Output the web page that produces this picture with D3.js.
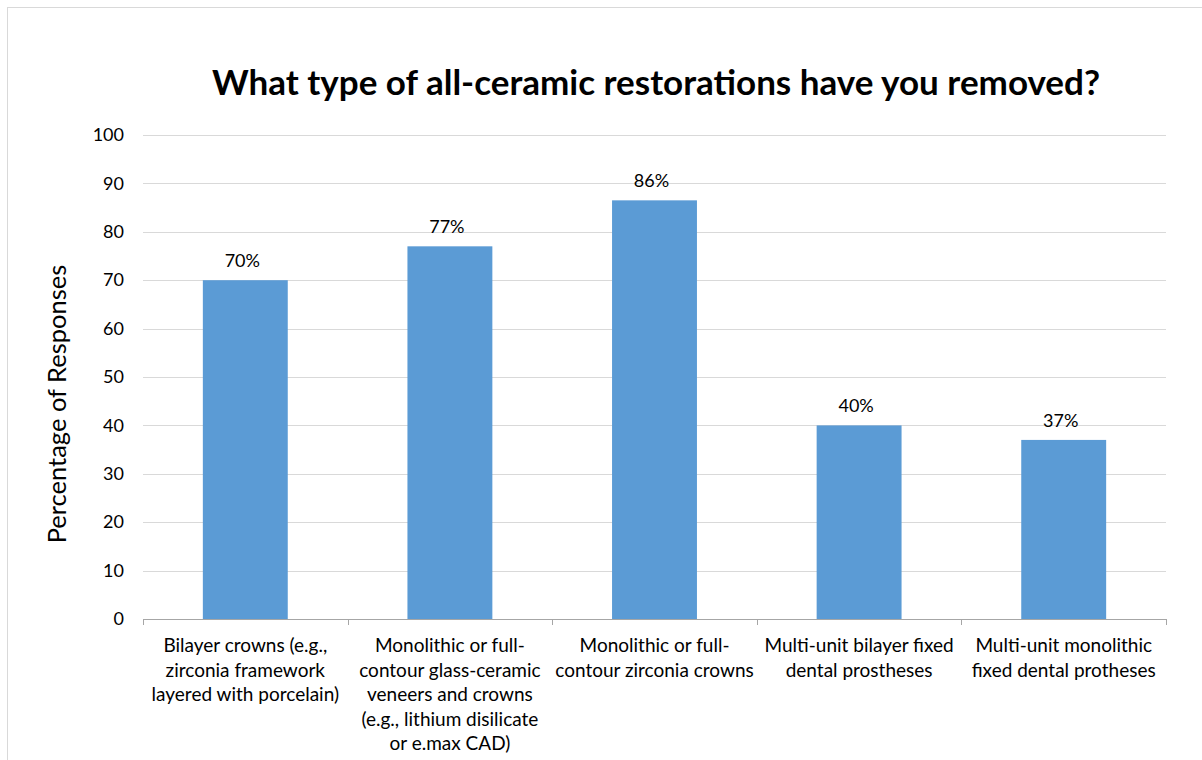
<!DOCTYPE html>
<html>
<head>
<meta charset="utf-8">
<script src="https://cdn.jsdelivr.net/npm/d3@7"></script>
<style>
  body { margin: 0; background: #fff; }
  text { font-family: Lato, "Open Sans", sans-serif; fill: #000; }
</style>
</head>
<body>
<div id="chart"></div>
<script>
// Chart data
const categories = [
  ["Bilayer crowns (e.g.,", "zirconia framework", "layered with porcelain)"],
  ["Monolithic or full-", "contour glass-ceramic", "veneers and crowns", "(e.g., lithium disilicate", "or e.max CAD)"],
  ["Monolithic or full-", "contour zirconia crowns"],
  ["Multi-unit bilayer fixed", "dental prostheses"],
  ["Multi-unit monolithic", "fixed dental protheses"]
];
const values = [70, 77, 86.5, 40, 37];
const valueLabels = ["70%", "77%", "86%", "40%", "37%"];
const yTicks = [0, 10, 20, 30, 40, 50, 60, 70, 80, 90, 100];

// Dimensions
const W = 1202, H = 760;
const margin = { top: 135, right: 36, bottom: 141, left: 143 };
const width = W - margin.left - margin.right;
const height = H - margin.top - margin.bottom;

const svgRoot = d3.select("#chart")
    .append("svg")
    .attr("width", W)
    .attr("height", H);

// outer frame
svgRoot.append("rect")
    .attr("x", 7.5).attr("y", 7.5)
    .attr("width", W).attr("height", H)
    .attr("fill", "none")
    .attr("stroke", "#d9d9d9");

const svg = svgRoot.append("g")
    .attr("transform", `translate(${margin.left},${margin.top})`);

// Scales
const xScale = d3.scaleBand()
    .domain(d3.range(categories.length))
    .range([0, width])
    .padding(0);

const yScale = d3.scaleLinear()
    .domain([0, 100])
    .range([height, 0]);

const barW = xScale.bandwidth() * 0.415;

// Gridlines
svg.append("g")
    .selectAll("line")
    .data(yTicks.filter(d => d > 0))
    .join("line")
    .attr("x1", 0).attr("x2", width)
    .attr("y1", d => Math.round(yScale(d)) + 0.5)
    .attr("y2", d => Math.round(yScale(d)) + 0.5)
    .attr("stroke", "#d9d9d9")
    .attr("stroke-width", 1);

// Y axis labels
const yAxis = svg.append("g")
    .call(d3.axisLeft(yScale).tickValues(yTicks).tickSize(0).tickPadding(19));
yAxis.select(".domain").remove();
yAxis.selectAll("text")
    .style("font-size", "18px")
    .style("font-family", "Lato, sans-serif")
    .attr("fill", "#000");

// Bars
svg.selectAll(".bar")
    .data(values)
    .join("rect")
    .attr("class", "bar")
    .attr("x", (d, i) => xScale(i) + (xScale.bandwidth() - barW) / 2)
    .attr("y", d => yScale(d))
    .attr("width", barW)
    .attr("height", d => height - yScale(d))
    .attr("fill", "#5b9bd5");

// Value labels
svg.selectAll(".vlabel")
    .data(values)
    .join("text")
    .attr("class", "vlabel")
    .attr("x", (d, i) => xScale(i) + xScale.bandwidth() / 2 - 3)
    .attr("y", d => yScale(d) - 13)
    .attr("text-anchor", "middle")
    .style("font-size", "18px")
    .text((d, i) => valueLabels[i]);

// X axis line and ticks
const xAxis = svg.append("g").attr("transform", `translate(0,${height})`);
xAxis.append("line")
    .attr("x1", 0).attr("x2", width)
    .attr("y1", 0.5).attr("y2", 0.5)
    .attr("stroke", "#a6a6a6");
xAxis.selectAll(".tick")
    .data(d3.range(categories.length + 1))
    .join("line")
    .attr("x1", i => Math.round(i * xScale.step()) + 0.5)
    .attr("x2", i => Math.round(i * xScale.step()) + 0.5)
    .attr("y1", 0).attr("y2", 6)
    .attr("stroke", "#a6a6a6");

// Category labels
xAxis.selectAll(".clabel")
    .data(categories)
    .join("text")
    .attr("class", "clabel")
    .attr("text-anchor", "middle")
    .attr("transform", (d, i) => `translate(${xScale(i) + xScale.bandwidth() / 2},33)`)
    .style("font-size", "19px")
    .selectAll("tspan")
    .data(d => d)
    .join("tspan")
    .attr("x", 0)
    .attr("dy", (d, j) => j === 0 ? 0 : 24.5)
    .text(d => d);

// Y axis title
svgRoot.append("text")
    .attr("transform", `translate(66,404) rotate(-90)`)
    .attr("text-anchor", "middle")
    .style("font-size", "25.5px")
    .text("Percentage of Responses");

// Chart title
svgRoot.append("text")
    .attr("x", 656)
    .attr("y", 95)
    .attr("text-anchor", "middle")
    .style("font-size", "35px")
    .style("font-weight", "bold")
    .text("What type of all-ceramic restorations have you removed?");
</script>
</body>
</html>
